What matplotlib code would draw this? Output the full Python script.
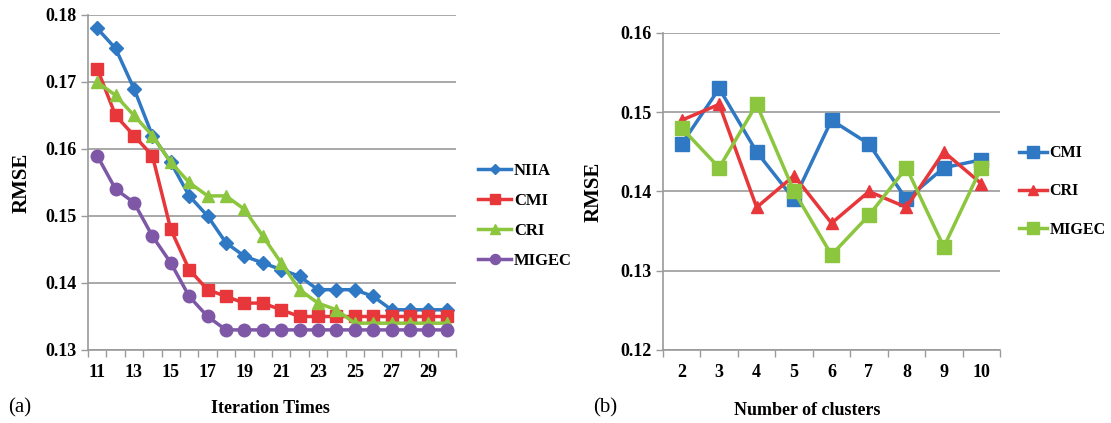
import matplotlib
matplotlib.use("Agg")
import matplotlib.pyplot as plt
import numpy as np

iters = list(range(11, 31))
niia = [0.178, 0.175, 0.169, 0.162, 0.158, 0.153, 0.150, 0.146, 0.144, 0.143,
        0.142, 0.141, 0.139, 0.139, 0.139, 0.138, 0.136, 0.136, 0.136, 0.136]
cmi_a = [0.172, 0.165, 0.162, 0.159, 0.148, 0.142, 0.139, 0.138, 0.137, 0.137,
         0.136, 0.135, 0.135, 0.135, 0.135, 0.135, 0.135, 0.135, 0.135, 0.135]
cri_a = [0.170, 0.168, 0.165, 0.162, 0.158, 0.155, 0.153, 0.153, 0.151, 0.147,
         0.143, 0.139, 0.137, 0.136, 0.134, 0.134, 0.134, 0.134, 0.134, 0.134]
migec_a = [0.159, 0.154, 0.152, 0.147, 0.143, 0.138, 0.135, 0.133, 0.133, 0.133,
           0.133, 0.133, 0.133, 0.133, 0.133, 0.133, 0.133, 0.133, 0.133, 0.133]

clusters = [2, 3, 4, 5, 6, 7, 8, 9, 10]
cmi_b = [0.146, 0.153, 0.145, 0.139, 0.149, 0.146, 0.139, 0.143, 0.144]
cri_b = [0.149, 0.151, 0.138, 0.142, 0.136, 0.140, 0.138, 0.145, 0.141]
migec_b = [0.148, 0.143, 0.151, 0.140, 0.132, 0.137, 0.143, 0.133, 0.143]

BLUE = "#2F78C4"
RED = "#E8373A"
GREEN = "#8CC63E"
PURPLE = "#7E57A6"
GRID = "#9A9A9A"

plt.rcParams['font.family'] = ['Liberation Serif', 'DejaVu Serif']
plt.rcParams['font.weight'] = 'bold'

fig = plt.figure(figsize=(11.11, 4.23), dpi=100)
ax1 = fig.add_axes([0.0792, 0.1726, 0.3312, 0.792])
ax2 = fig.add_axes([0.5968, 0.1726, 0.3033, 0.7494])


def style(ax, n, labels, label_step, ylim, yticks):
    x = np.arange(n)
    ax.set_xlim(-0.5, n - 0.5)
    ax.set_ylim(*ylim)
    ax.set_yticks(yticks)
    ax.set_yticklabels([f"{v:.2f}" for v in yticks], fontsize=13, fontweight='bold')
    ax.set_xticks(x[::label_step])
    ax.set_xticklabels([str(l) for l in labels[::label_step]], fontsize=13, fontweight='bold')
    ax.set_xticks(np.arange(-0.5, n, 1.0), minor=True)
    ax.tick_params(axis='x', which='major', length=0, pad=10)
    ax.tick_params(axis='x', which='minor', length=5, color=GRID, width=1)
    ax.tick_params(axis='y', length=5, color=GRID, width=1, pad=3)
    for s in ['top', 'right']:
        ax.spines[s].set_visible(False)
    for s in ['left', 'bottom']:
        ax.spines[s].set_color(GRID)
        ax.spines[s].set_linewidth(1.2)
    ax.yaxis.grid(True, color=GRID, linewidth=1.2)
    ax.set_axisbelow(True)
    return x


x1 = style(ax1, len(iters), iters, 2, (0.13, 0.18), [0.13, 0.14, 0.15, 0.16, 0.17, 0.18])
ax1.plot(x1, niia, color=BLUE, lw=2.5, marker='D', ms=7, label='NIIA')
ax1.plot(x1, cmi_a, color=RED, lw=2.5, marker='s', ms=9, label='CMI')
ax1.plot(x1, cri_a, color=GREEN, lw=2.5, marker='^', ms=9, label='CRI')
ax1.plot(x1, migec_a, color=PURPLE, lw=2.5, marker='o', ms=9, label='MIGEC')
ax1.set_ylabel('RMSE', fontsize=15, fontweight='bold', labelpad=10)
ax1.legend(loc='center left', bbox_to_anchor=(1.06, 0.40), frameon=False,
           prop={'size': 12, 'weight': 'bold'}, handlelength=2.0, labelspacing=0.85,
           handletextpad=0.15, markerscale=0.8, borderaxespad=0, borderpad=0)

x2 = style(ax2, len(clusters), clusters, 1, (0.12, 0.16), [0.12, 0.13, 0.14, 0.15, 0.16])
ax2.plot(x2, cmi_b, color=BLUE, lw=2.5, marker='s', ms=10, label='CMI')
ax2.plot(x2, cri_b, color=RED, lw=2.5, marker='^', ms=9, label='CRI')
ax2.plot(x2, migec_b, color=GREEN, lw=2.5, marker='s', ms=10, label='MIGEC')
ax2.set_ylabel('RMSE', fontsize=15, fontweight='bold', labelpad=12)
ax2.legend(loc='center left', bbox_to_anchor=(1.055, 0.50), frameon=False,
           prop={'size': 11.5, 'weight': 'bold'}, handlelength=1.8, labelspacing=1.4,
           handletextpad=0.15, markerscale=0.8, borderaxespad=0, borderpad=0)

fig.text(0.243, 0.035, 'Iteration Times', ha='center', va='center', fontsize=13, fontweight='bold')
fig.text(0.727, 0.03, 'Number of clusters', ha='center', va='center', fontsize=13, fontweight='bold')
fig.text(0.018, 0.035, '(a)', ha='center', va='center', fontsize=15, fontweight='normal')
fig.text(0.545, 0.035, '(b)', ha='center', va='center', fontsize=15, fontweight='normal')

fig.savefig('out.png', dpi=100)
